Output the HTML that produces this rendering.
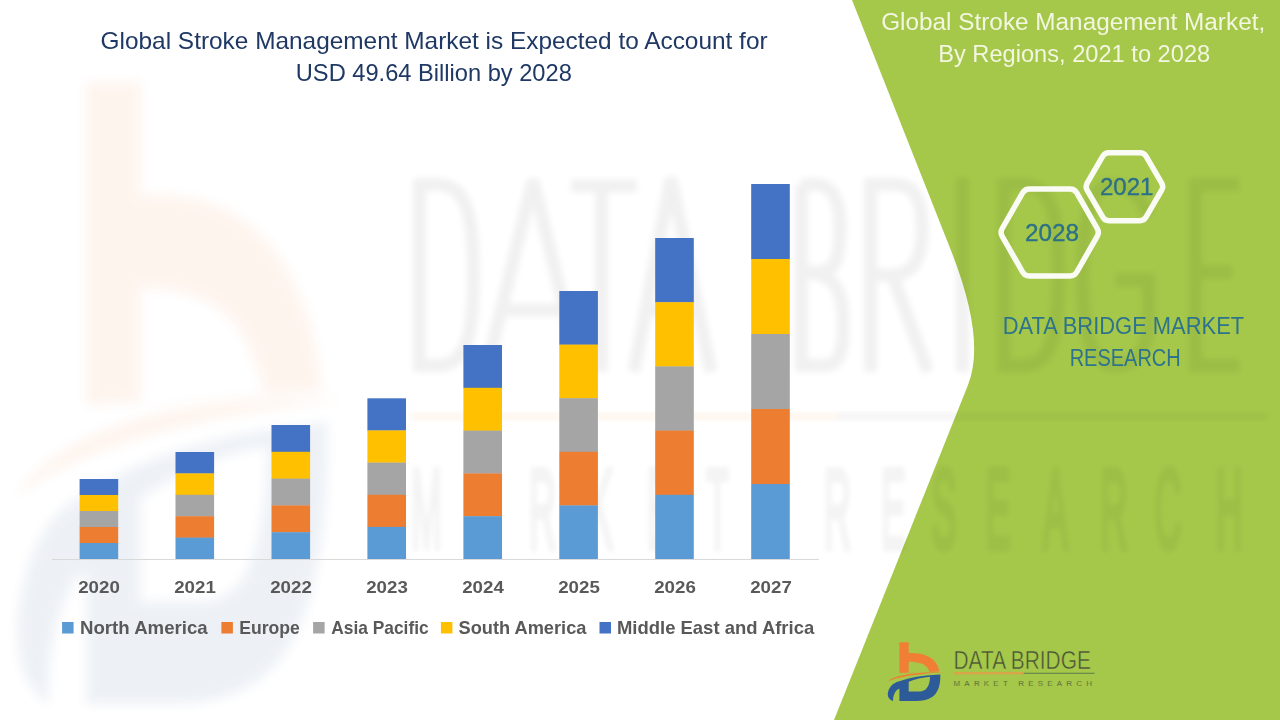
<!DOCTYPE html>
<html>
<head>
<meta charset="utf-8">
<style>
html,body{margin:0;padding:0;background:#fff;}
body{width:1280px;height:720px;overflow:hidden;position:relative;}
svg{position:absolute;left:0;top:0;}
text{font-family:"Liberation Sans",sans-serif;}
</style>
</head>
<body>
<svg width="1280" height="720" viewBox="0 0 1280 720">
  <defs>
    <filter id="blur2" x="-10%" y="-10%" width="120%" height="120%"><feGaussianBlur stdDeviation="2.5"/></filter>
    <filter id="blur3" x="-10%" y="-10%" width="120%" height="120%"><feGaussianBlur stdDeviation="3"/></filter>
    <filter id="blur6" x="-10%" y="-10%" width="120%" height="120%"><feGaussianBlur stdDeviation="5.5"/></filter>
    <filter id="blur4" x="-10%" y="-10%" width="120%" height="120%"><feGaussianBlur stdDeviation="4"/></filter>
    <g id="logo">
      <path fill-rule="evenodd" fill="#F07F35" d="M19.4,6.3 H28.7 V17 C40,16.5 50,19 55.4,26.2 C58,29.5 59,33 59.3,35.5 L19.4,36.9 Z M28.7,25.8 C37,25.8 43,27.5 45.7,30.1 C48,32.5 49.2,34.5 49.6,36 L28.7,36.6 Z"/>
      <path fill="#F07F35" d="M7.3,45.6 C14,40 30,35.6 63.2,36.3 C30,38.4 15,42.3 7.3,45.6 Z"/>
      <path fill-rule="evenodd" fill="#2D5A98" d="M7.8,57.3 C9,50 14,46.5 19.4,45.2 C28,42 40,39.5 60.3,38.4 C60.5,46 59.5,54 54,59.5 C49,64 42,65.1 34,65.1 H19.4 V52.5 C16,54 13,58 13.1,65.1 C9,63.5 7.5,61 7.8,57.3 Z M28.7,45.7 C35,43.3 42,41.5 50,40.8 C50,46 48.5,51 45.7,53.4 C43,55.2 40,55.4 38.9,55.4 H28.7 Z"/>
    </g>
  </defs>
  <!-- big logo watermark -->
  <g opacity="0.08" filter="url(#blur6)">
    <use href="#logo" transform="matrix(5.91 0 0 10.58 -28.7 15.4)"/>
  </g>
  <!-- green panel -->
  <path d="M852,0 L950,248 Q986.4,339 968,385 L834,720 L1280,720 L1280,0 Z" fill="#A5C84A"/>

  <!-- DATA BRIDGE watermark -->
  <g opacity="0.055" filter="url(#blur3)" fill="none" stroke="#000" stroke-width="13">
    <path d="M419.5,184.5 V365.5 H438 C468,365.5 473.5,330 473.5,275 C473.5,220 468,184.5 438,184.5 Z"/>
    <path d="M486,372 L533,180 L580,372 M500,310 H566"/>
    <path d="M571,186 H637 M601.5,186 V372"/>
    <path d="M634,372 L671,178 L711,372 M645,310 H700"/>
    <path d="M801.5,184.5 V365.5 H825 C845,365.5 843,335 843,320 C843,285 830,272 801.5,272 M801.5,272 H820 C838,272 840,250 840,228 C840,195 830,184.5 815,184.5 H801.5"/>
    <path d="M870.5,372 V184.5 H895 C918,184.5 922,205 922,230 C922,262 912,275 890,275 H870.5 M893,277 L928,372"/>
    <path d="M962.5,178 V372"/>
    <path d="M1004,184.5 V365.5 H1023 C1053,365.5 1058.5,330 1058.5,275 C1058.5,220 1053,184.5 1023,184.5 Z"/>
    <path d="M1148,215 C1138,190 1125,184.5 1112,184.5 C1090,184.5 1082.5,220 1082.5,275 C1082.5,335 1092,365.5 1115,365.5 C1135,365.5 1148.5,350 1148.5,320 V280 H1115"/>
    <path d="M1239,184.5 H1195.5 V365.5 H1239 M1195.5,272 H1232"/>
  </g>
  <g filter="url(#blur2)">
    <rect x="411" y="412" width="424" height="9" fill="#F07F35" opacity="0.06"/>
    <rect x="835" y="412" width="432" height="9" fill="#000" opacity="0.035"/>
  </g>
  <g opacity="0.045" filter="url(#blur2)" font-size="113" fill="#000" stroke="#000" stroke-width="7">
    <text transform="translate(411.0 548) scale(0.33 1)">M</text>
    <text transform="translate(470.0 548) scale(0.33 1)">A</text>
    <text transform="translate(529.0 548) scale(0.33 1)">R</text>
    <text transform="translate(588.0 548) scale(0.33 1)">K</text>
    <text transform="translate(647.0 548) scale(0.33 1)">E</text>
    <text transform="translate(706.0 548) scale(0.33 1)">T</text>
    <text transform="translate(824.0 548) scale(0.33 1)">R</text>
    <text transform="translate(881.0 548) scale(0.33 1)">E</text>
    <text transform="translate(931.5 548) scale(0.33 1)">S</text>
    <text transform="translate(985.5 548) scale(0.33 1)">E</text>
    <text transform="translate(1043.0 548) scale(0.33 1)">A</text>
    <text transform="translate(1100.6 548) scale(0.33 1)">R</text>
    <text transform="translate(1154.5 548) scale(0.33 1)">C</text>
    <text transform="translate(1215.7 548) scale(0.33 1)">H</text>
  </g>
  <!-- axis line -->
  <rect x="52" y="559" width="767" height="1" fill="#D9D9D9"/>

  <!-- bars -->
  <g id="bars">
  <rect x="79.6" y="479.0" width="38.6" height="16.3" fill="#4472C4"/>
  <rect x="79.6" y="495.0" width="38.6" height="16.3" fill="#FFC000"/>
  <rect x="79.6" y="511.0" width="38.6" height="16.3" fill="#A5A5A5"/>
  <rect x="79.6" y="527.0" width="38.6" height="16.3" fill="#ED7D31"/>
  <rect x="79.6" y="543.0" width="38.6" height="16.0" fill="#5B9BD5"/>
  <rect x="175.5" y="452.0" width="38.6" height="21.7" fill="#4472C4"/>
  <rect x="175.5" y="473.4" width="38.6" height="21.7" fill="#FFC000"/>
  <rect x="175.5" y="494.8" width="38.6" height="21.7" fill="#A5A5A5"/>
  <rect x="175.5" y="516.2" width="38.6" height="21.7" fill="#ED7D31"/>
  <rect x="175.5" y="537.6" width="38.6" height="21.4" fill="#5B9BD5"/>
  <rect x="271.5" y="425.0" width="38.6" height="27.1" fill="#4472C4"/>
  <rect x="271.5" y="451.8" width="38.6" height="27.1" fill="#FFC000"/>
  <rect x="271.5" y="478.6" width="38.6" height="27.1" fill="#A5A5A5"/>
  <rect x="271.5" y="505.4" width="38.6" height="27.1" fill="#ED7D31"/>
  <rect x="271.5" y="532.2" width="38.6" height="26.8" fill="#5B9BD5"/>
  <rect x="367.4" y="398.3" width="38.6" height="32.4" fill="#4472C4"/>
  <rect x="367.4" y="430.4" width="38.6" height="32.4" fill="#FFC000"/>
  <rect x="367.4" y="462.6" width="38.6" height="32.4" fill="#A5A5A5"/>
  <rect x="367.4" y="494.8" width="38.6" height="32.4" fill="#ED7D31"/>
  <rect x="367.4" y="526.9" width="38.6" height="32.1" fill="#5B9BD5"/>
  <rect x="463.4" y="345.0" width="38.6" height="43.1" fill="#4472C4"/>
  <rect x="463.4" y="387.8" width="38.6" height="43.1" fill="#FFC000"/>
  <rect x="463.4" y="430.6" width="38.6" height="43.1" fill="#A5A5A5"/>
  <rect x="463.4" y="473.4" width="38.6" height="43.1" fill="#ED7D31"/>
  <rect x="463.4" y="516.2" width="38.6" height="42.8" fill="#5B9BD5"/>
  <rect x="559.3" y="291.0" width="38.6" height="53.9" fill="#4472C4"/>
  <rect x="559.3" y="344.6" width="38.6" height="53.9" fill="#FFC000"/>
  <rect x="559.3" y="398.2" width="38.6" height="53.9" fill="#A5A5A5"/>
  <rect x="559.3" y="451.8" width="38.6" height="53.9" fill="#ED7D31"/>
  <rect x="559.3" y="505.4" width="38.6" height="53.6" fill="#5B9BD5"/>
  <rect x="655.2" y="238.0" width="38.6" height="64.5" fill="#4472C4"/>
  <rect x="655.2" y="302.2" width="38.6" height="64.5" fill="#FFC000"/>
  <rect x="655.2" y="366.4" width="38.6" height="64.5" fill="#A5A5A5"/>
  <rect x="655.2" y="430.6" width="38.6" height="64.5" fill="#ED7D31"/>
  <rect x="655.2" y="494.8" width="38.6" height="64.2" fill="#5B9BD5"/>
  <rect x="751.2" y="184.0" width="38.6" height="75.3" fill="#4472C4"/>
  <rect x="751.2" y="259.0" width="38.6" height="75.3" fill="#FFC000"/>
  <rect x="751.2" y="334.0" width="38.6" height="75.3" fill="#A5A5A5"/>
  <rect x="751.2" y="409.0" width="38.6" height="75.3" fill="#ED7D31"/>
  <rect x="751.2" y="484.0" width="38.6" height="75.0" fill="#5B9BD5"/>
  </g>

  <!-- title -->
  <text x="100.6" y="49.4" font-size="24" fill="#1F3864" textLength="667" lengthAdjust="spacingAndGlyphs">Global Stroke Management Market is Expected to Account for</text>
  <text x="295.8" y="81.3" font-size="24" fill="#1F3864" textLength="276" lengthAdjust="spacingAndGlyphs">USD 49.64 Billion by 2028</text>

  <!-- right title -->
  <text x="881.2" y="29.8" font-size="24.7" fill="#F3F6E0" textLength="384" lengthAdjust="spacingAndGlyphs">Global Stroke Management Market,</text>
  <text x="938.2" y="61.5" font-size="24.7" fill="#F3F6E0" textLength="272" lengthAdjust="spacingAndGlyphs">By Regions, 2021 to 2028</text>

  <!-- hexagons -->
  <path d="M1002.2,236.3 Q1000.0,232.4 1002.2,228.5 L1022.6,192.8 Q1024.8,188.9 1029.3,188.9 L1070.1,188.9 Q1074.6,188.9 1076.8,192.8 L1097.2,228.5 Q1099.5,232.4 1097.2,236.3 L1076.8,272.0 Q1074.6,275.9 1070.1,275.9 L1029.3,275.9 Q1024.8,275.9 1022.6,272.0 Z" fill="none" stroke="#FBFBF5" stroke-width="5.5"/>
  <path d="M1087.1,190.2 Q1085.2,186.7 1087.1,183.2 L1102.8,156.2 Q1104.8,152.7 1108.8,152.7 L1140.0,152.7 Q1144.0,152.7 1146.0,156.2 L1161.7,183.2 Q1163.7,186.7 1161.7,190.2 L1146.0,217.2 Q1144.0,220.7 1140.0,220.7 L1108.8,220.7 Q1104.8,220.7 1102.8,217.2 Z" fill="none" stroke="#FBFBF5" stroke-width="5.5"/>
  <text x="1025" y="240.6" font-size="23.5" fill="#2C7088" stroke="#2C7088" stroke-width="0.35" textLength="54" lengthAdjust="spacingAndGlyphs">2028</text>
  <text x="1100" y="195.2" font-size="23.5" fill="#2C7088" stroke="#2C7088" stroke-width="0.35" textLength="53.5" lengthAdjust="spacingAndGlyphs">2021</text>

  <!-- DBMR text -->
  <text x="1002.7" y="333.8" font-size="24.7" fill="#2E738C" textLength="241.5" lengthAdjust="spacingAndGlyphs">DATA BRIDGE MARKET</text>
  <text x="1069.7" y="365.8" font-size="24.7" fill="#2E738C" textLength="111" lengthAdjust="spacingAndGlyphs">RESEARCH</text>

  <!-- legend -->
  <g font-size="18.5" font-weight="bold" fill="#595959">
  <rect x="62.1" y="622" width="11.5" height="11.5" fill="#5B9BD5"/>
  <text x="80.0" y="633.6" textLength="127.7" lengthAdjust="spacingAndGlyphs">North America</text>
  <rect x="221.4" y="622" width="11.5" height="11.5" fill="#ED7D31"/>
  <text x="239.3" y="633.6" textLength="60.6" lengthAdjust="spacingAndGlyphs">Europe</text>
  <rect x="313.1" y="622" width="11.5" height="11.5" fill="#A5A5A5"/>
  <text x="331.2" y="633.6" textLength="97.5" lengthAdjust="spacingAndGlyphs">Asia Pacific</text>
  <rect x="440.9" y="622" width="11.5" height="11.5" fill="#FFC000"/>
  <text x="458.6" y="633.6" textLength="127.8" lengthAdjust="spacingAndGlyphs">South America</text>
  <rect x="599.5" y="622" width="11.5" height="11.5" fill="#4472C4"/>
  <text x="617.0" y="633.6" textLength="197.2" lengthAdjust="spacingAndGlyphs">Middle East and Africa</text>
  </g>
  <!-- x labels -->
  <g font-size="17.4" font-weight="bold" fill="#595959">
    <text x="78.2" y="592.8" textLength="41.6" lengthAdjust="spacingAndGlyphs">2020</text>
    <text x="174.2" y="592.8" textLength="41.6" lengthAdjust="spacingAndGlyphs">2021</text>
    <text x="270.2" y="592.8" textLength="41.6" lengthAdjust="spacingAndGlyphs">2022</text>
    <text x="366.2" y="592.8" textLength="41.6" lengthAdjust="spacingAndGlyphs">2023</text>
    <text x="462.2" y="592.8" textLength="41.6" lengthAdjust="spacingAndGlyphs">2024</text>
    <text x="558.2" y="592.8" textLength="41.6" lengthAdjust="spacingAndGlyphs">2025</text>
    <text x="654.2" y="592.8" textLength="41.6" lengthAdjust="spacingAndGlyphs">2026</text>
    <text x="750.2" y="592.8" textLength="41.6" lengthAdjust="spacingAndGlyphs">2027</text>
  </g>
<!-- small logo -->
  <use href="#logo" x="880" y="636"/>
  <text x="953.5" y="669.4" font-size="25.5" fill="#4A5236" stroke="#A5C84A" stroke-width="0.5" textLength="137.4" lengthAdjust="spacingAndGlyphs">DATA BRIDGE</text>
  <rect x="953.5" y="672" width="70.2" height="2.4" fill="#D8A548"/>
  <rect x="1023.7" y="672.7" width="70.8" height="1.3" fill="#6A8C4A"/>
  <text x="953.5" y="685.5" font-size="8" fill="#4A5236" stroke="#A5C84A" stroke-width="0.2" textLength="138.5" lengthAdjust="spacing">MARKET  RESEARCH</text>
</svg>
<script>
</script>
</body>
</html>
